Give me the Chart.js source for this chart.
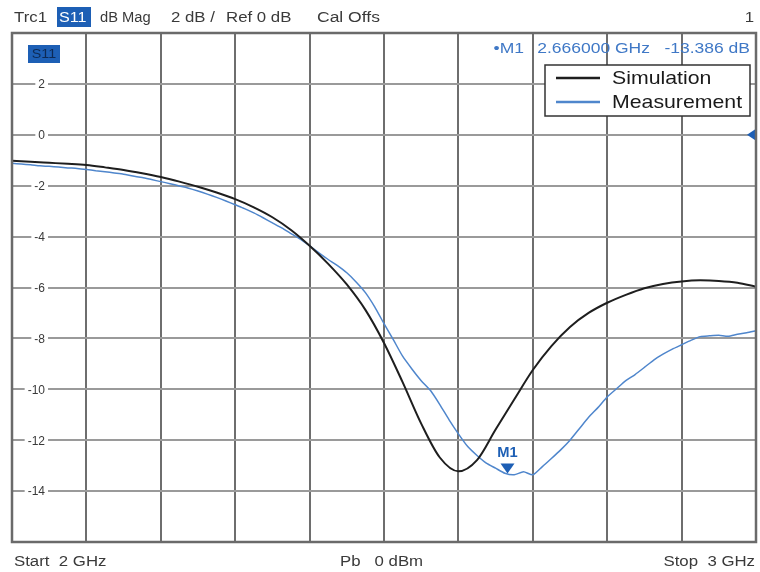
<!DOCTYPE html>
<html>
<head>
<meta charset="utf-8">
<script src="https://cdn.jsdelivr.net/npm/chart.js@4/dist/chart.umd.min.js"></script>
<style>
  html, body { margin: 0; padding: 0; background: #fff; }
  #wrap { width: 760px; height: 572px; }
</style>
</head>
<body>
<div id="wrap"><canvas id="vna"></canvas></div>
<script>
// sweep 2..3 GHz, S11 in dB
const simFreq = [2.000, 2.025, 2.050, 2.075, 2.100, 2.125, 2.150, 2.175, 2.200, 2.225,
                 2.250, 2.275, 2.300, 2.325, 2.350, 2.375, 2.400, 2.425, 2.450, 2.475,
                 2.500, 2.525, 2.550, 2.575, 2.600, 2.625, 2.650, 2.675, 2.700, 2.725,
                 2.750, 2.775, 2.800, 2.825, 2.850, 2.875, 2.900, 2.925, 2.950, 2.975, 3.000];
const simDb = [-1.02, -1.06, -1.10, -1.14, -1.19, -1.28, -1.38, -1.51, -1.66, -1.84,
               -2.04, -2.27, -2.53, -2.85, -3.24, -3.74, -4.36, -5.07, -5.88, -6.88,
               -8.18, -9.72, -11.35, -12.68, -13.22, -12.78, -11.58, -10.40, -9.24, -8.30,
               -7.55, -7.00, -6.60, -6.29, -6.03, -5.86, -5.76, -5.72, -5.74, -5.81, -5.97];

const measFreq = [2.0000, 2.0125, 2.0250, 2.0375, 2.0500, 2.0625, 2.0750, 2.0875, 2.1000, 2.1125,
                  2.1250, 2.1375, 2.1500, 2.1625, 2.1750, 2.1875, 2.2000, 2.2125, 2.2250, 2.2375,
                  2.2500, 2.2625, 2.2750, 2.2875, 2.3000, 2.3125, 2.3250, 2.3375, 2.3500, 2.3625,
                  2.3750, 2.3875, 2.4000, 2.4125, 2.4250, 2.4375, 2.4500, 2.4625, 2.4750, 2.4875,
                  2.5000, 2.5125, 2.5250, 2.5375, 2.5500, 2.5625, 2.5750, 2.5875, 2.6000, 2.6125,
                  2.6250, 2.6375, 2.6500, 2.6625, 2.6750, 2.6875, 2.7000, 2.7125, 2.7250, 2.7375,
                  2.7500, 2.7625, 2.7750, 2.7875, 2.8000, 2.8125, 2.8250, 2.8375, 2.8500, 2.8625,
                  2.8750, 2.8875, 2.9000, 2.9125, 2.9250, 2.9375, 2.9500, 2.9625, 2.9750, 2.9875, 3.0000];
const measDb = [-1.12, -1.15, -1.18, -1.22, -1.24, -1.27, -1.30, -1.32, -1.36, -1.41,
                -1.45, -1.50, -1.55, -1.62, -1.68, -1.76, -1.84, -1.92, -2.01, -2.10,
                -2.21, -2.33, -2.46, -2.60, -2.75, -2.90, -3.07, -3.26, -3.46, -3.66,
                -3.88, -4.10, -4.36, -4.64, -4.90, -5.14, -5.42, -5.78, -6.20, -6.76,
                -7.42, -8.05, -8.70, -9.20, -9.66, -10.05, -10.60, -11.20, -11.75, -12.25,
                -12.60, -12.90, -13.10, -13.30, -13.36, -13.24, -13.36, -13.05, -12.72, -12.38,
                -12.00, -11.55, -11.10, -10.72, -10.30, -9.98, -9.66, -9.42, -9.14, -8.85,
                -8.62, -8.42, -8.25, -8.08, -7.93, -7.90, -7.88, -7.92, -7.84, -7.78, -7.70];

const yTicks = [2, 0, -2, -4, -6, -8, -10, -12, -14];
const marker = { name: "M1", freq: 2.666, db: -13.386 };
const refLevel = 0;

const FONT = "'Liberation Sans', Arial, sans-serif";
const TXT = "#3a3a3a";
const BLUE = "#1d5fb5";
const TRACE_BLUE = "#4f86cc";

function xy(fs, vs) { return fs.map((f, i) => ({ x: f, y: vs[i] })); }

// the analyzer font is a bit wider than Liberation Sans, so stretch it sideways
function wideText(ctx, text, x, y, sx, align) {
    const w = ctx.measureText(text).width * sx;
    let x0 = x;
    if (align === "right") x0 = x - w;
    else if (align === "center") x0 = x - w / 2;
    ctx.save();
    ctx.textAlign = "left";
    ctx.translate(x0, y);
    ctx.scale(sx, 1);
    ctx.fillText(text, 0, 0);
    ctx.restore();
}

/* grid labels, ref arrow, border, legend, marker, header/footer */
const vnaDecor = {
    id: "vnaDecor",
    beforeDatasetsDraw(chart) {
        const { ctx, chartArea: a, scales: { y } } = chart;
        ctx.save();
        ctx.font = "12px " + FONT;
        ctx.textAlign = "right";
        ctx.textBaseline = "middle";
        yTicks.forEach(v => {
            const py = y.getPixelForValue(v);
            const t = String(v);
            const w = ctx.measureText(t).width;
            ctx.fillStyle = "#fff";
            ctx.fillRect(45 - w - 3, py - 4, w + 6, 8);
            ctx.fillStyle = TXT;
            ctx.fillText(t, 45, py + 1);
        });
        // S11 tag
        ctx.fillStyle = BLUE;
        ctx.fillRect(a.left + 16, a.top + 12, 32, 18);
        ctx.fillStyle = "#0d2a55";
        ctx.font = "13px " + FONT;
        wideText(ctx, "S11", a.left + 32, a.top + 21.5, 1.1, "center");
        ctx.restore();
    },
    afterDatasetsDraw(chart) {
        const { ctx, chartArea: a, scales: { x, y } } = chart;
        ctx.save();

        // reference level arrow
        const ry = y.getPixelForValue(refLevel);
        ctx.fillStyle = BLUE;
        ctx.beginPath();
        ctx.moveTo(a.right - 9, ry);
        ctx.lineTo(a.right, ry - 6);
        ctx.lineTo(a.right, ry + 6);
        ctx.closePath();
        ctx.fill();

        // marker triangle + name
        const mx = x.getPixelForValue(marker.freq);
        const my = y.getPixelForValue(marker.db);
        ctx.fillStyle = BLUE;
        ctx.beginPath();
        ctx.moveTo(mx, my - 2);
        ctx.lineTo(mx - 7, my - 12);
        ctx.lineTo(mx + 7, my - 12);
        ctx.closePath();
        ctx.fill();
        ctx.font = "bold 14px " + FONT;
        ctx.textBaseline = "alphabetic";
        wideText(ctx, marker.name, mx, my - 18, 1.05, "center");

        // marker readout
        ctx.font = "14px " + FONT;
        ctx.fillStyle = "#3f78c6";
        wideText(ctx, marker.db.toFixed(3) + " dB", a.right - 6, a.top + 20, 1.25, "right");
        wideText(ctx, marker.freq.toFixed(6) + " GHz", a.right - 106, a.top + 20, 1.25, "right");
        wideText(ctx, "\u2022" + marker.name, a.right - 232, a.top + 20, 1.25, "right");

        // legend
        const lx = 545, ly = 65, lw = 205, lh = 51;
        ctx.fillStyle = "#fff";
        ctx.fillRect(lx, ly, lw, lh);
        ctx.strokeStyle = "#333";
        ctx.lineWidth = 1.5;
        ctx.strokeRect(lx, ly, lw, lh);
        ctx.font = "19px " + FONT;
        ctx.textBaseline = "middle";
        chart.data.datasets.slice(0, 2).forEach((ds, i) => {
            const yy = ly + 13 + i * 24;
            ctx.strokeStyle = ds.borderColor;
            ctx.lineWidth = 2.5;
            ctx.beginPath();
            ctx.moveTo(lx + 11, yy);
            ctx.lineTo(lx + 55, yy);
            ctx.stroke();
            ctx.fillStyle = "#1a1a1a";
            wideText(ctx, ds.label, lx + 67, yy + 1, 1.12, "left");
        });

        // frame
        ctx.strokeStyle = "#6a6a6a";
        ctx.lineWidth = 2.5;
        ctx.strokeRect(a.left, a.top, a.right - a.left, a.bottom - a.top);
        ctx.restore();
    },
    afterDraw(chart) {
        const { ctx } = chart;
        ctx.save();
        ctx.font = "14px " + FONT;
        ctx.textBaseline = "alphabetic";
        ctx.fillStyle = TXT;
        wideText(ctx, "Trc1", 14, 22, 1.2, "left");
        ctx.fillStyle = BLUE;
        ctx.fillRect(57, 7, 34, 20);
        ctx.fillStyle = "#fff";
        wideText(ctx, "S11", 59, 22, 1.15, "left");
        ctx.fillStyle = TXT;
        wideText(ctx, "dB Mag", 100, 22, 1.05, "left");
        wideText(ctx, "2 dB /", 171, 22, 1.2, "left");
        wideText(ctx, "Ref 0 dB", 226, 22, 1.2, "left");
        wideText(ctx, "Cal Offs", 317, 22, 1.25, "left");
        wideText(ctx, "1", 754, 22, 1.2, "right");

        wideText(ctx, "Start  2 GHz", 14, 566, 1.2, "left");
        wideText(ctx, "Pb   0 dBm", 340, 566, 1.2, "left");
        wideText(ctx, "Stop  3 GHz", 755, 566, 1.2, "right");
        ctx.restore();
    }
};

new Chart(document.getElementById("vna"), {
    type: "line",
    data: {
        datasets: [{
            label: "Simulation",
            data: xy(simFreq, simDb),
            borderColor: "#1e1e1e",
            borderWidth: 2,
            pointRadius: 0,
            tension: 0.4,
            cubicInterpolationMode: "monotone"
        }, {
            label: "Measurement",
            data: xy(measFreq, measDb),
            borderColor: TRACE_BLUE,
            borderWidth: 1.5,
            pointRadius: 0,
            tension: 0.2
        }]
    },
    options: {
        responsive: true,
        maintainAspectRatio: false,
        animation: false,
        layout: { padding: { left: 12, right: 4, top: 33, bottom: 30 } },
        plugins: { legend: { display: false }, tooltip: { enabled: false } },
        scales: {
            x: {
                type: "linear",
                min: 2,
                max: 3,
                ticks: { display: false, stepSize: 0.1 },
                grid: { color: "#6e6e6e", lineWidth: 2, drawTicks: false },
                border: { display: false }
            },
            y: {
                min: -16,
                max: 4,
                ticks: { display: false, stepSize: 2 },
                grid: { color: "#9a9a9a", lineWidth: 2, drawTicks: false },
                border: { display: false }
            }
        }
    },
    plugins: [vnaDecor]
});
</script>
</body>
</html>
